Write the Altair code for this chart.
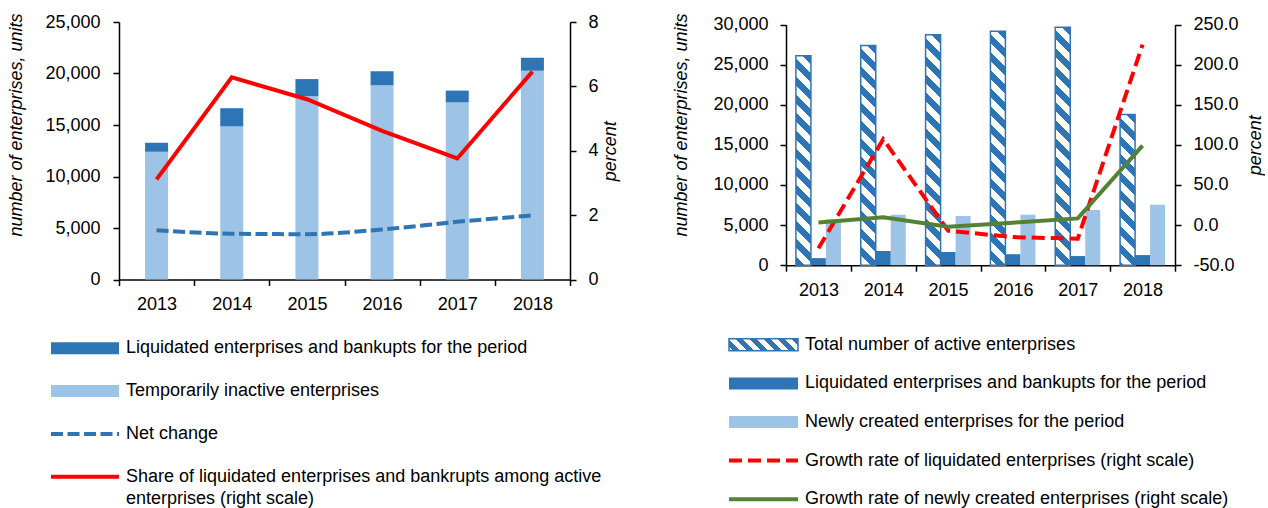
import altair as alt
import pandas as pd

# ---------------- data ----------------
years = [2013, 2014, 2015, 2016, 2017, 2018]
inactive = [12400, 14860, 17810, 18850, 17200, 20270]
liquidated = [880, 1770, 1650, 1370, 1140, 1260]
net_change = [4790, 4440, 4400, 4860, 5600, 6220]
share_liquidated = [3.11, 6.28, 5.60, 4.62, 3.76, 6.46]

total_active = [26100, 27380, 28710, 29170, 29670, 18790]
newly_created = [5710, 6290, 6130, 6290, 6880, 7540]
growth_liquidated = [-29, 107, -7, -15, -17, 225]
growth_new = [3.3, 9.8, -2.2, 3.0, 8.3, 99]

left_y_ticks = [0, 5000, 10000, 15000, 20000, 25000]
left_r_ticks = [0, 2, 4, 6, 8]
right_y_ticks = [0, 5000, 10000, 15000, 20000, 25000, 30000]
right_r_ticks = [-50, 0, 50, 100, 150, 200, 250]

left_legend = [
    "Liquidated enterprises and bankupts for the period",
    "Temporarily inactive enterprises",
    "Net change",
    "Share of liquidated enterprises and bankrupts among active",
    "enterprises (right scale)",
]
right_legend = [
    "Total number of active enterprises",
    "Liquidated enterprises and bankupts for the period",
    "Newly created enterprises for the period",
    "Growth rate of liquidated enterprises (right scale)",
    "Growth rate of newly created enterprises (right scale)",
]

# ---------------- style ----------------
FONT = "Liberation Sans, Arial, sans-serif"
FS = 18
LFS = 18
DARK = "#2E75B6"
LIGHT = "#9DC3E6"
RED = "#FF0000"
GREEN = "#548235"
LW, LH = 451, 257.5
RW, RPLOT = 389, 240.7
RTOP = 2.5                 # right plot starts 2.5 px lower than the left one
RH = RPLOT + RTOP


def hatch(w, h, period, frac=0.5, color=DARK):
    """Diagonal '\\' stripes as a linear gradient in bounding-box units."""
    L = w + h
    d = w * w + h * h
    step = period / L
    stops = []
    k = 0
    while k * step < 1:
        a = k * step
        b = min((k + frac) * step, 1)
        c = min((k + 1) * step, 1)
        stops += [(a, color), (b, color), (b, "#FFFFFF"), (c, "#FFFFFF")]
        k += 1
    return {
        "gradient": "linear",
        "x1": 1, "y1": 0,
        "x2": 1 - w * L / d, "y2": h * L / d,
        "stops": [{"offset": o, "color": c} for o, c in stops],
    }


def x_axis():
    return alt.Axis(title=None, labelAngle=0, tickBand="extent", labelPadding=10)


# ================= LEFT CHART =================
df_lb = pd.DataFrame({
    "year": years * 2,
    "series": ["Temporarily inactive"] * 6 + ["Liquidated"] * 6,
    "value": inactive + liquidated,
    "ord": [0] * 6 + [1] * 6,
})
left_color = alt.Scale(domain=["Temporarily inactive", "Liquidated"], range=[LIGHT, DARK])
left_y_scale = alt.Scale(domain=[0, 25000], nice=False, zero=True)
left_y_axis = alt.Axis(values=left_y_ticks, format=",d", title="number of enterprises, units",
                       orient="left", labelPadding=13, titlePadding=19, titleY=102.5)

l_bars = alt.Chart(df_lb).mark_bar(size=23).encode(
    x=alt.X("year:O", scale=alt.Scale(paddingInner=0, paddingOuter=0), axis=x_axis()),
    y=alt.Y("value:Q", stack="zero", scale=left_y_scale, axis=left_y_axis),
    color=alt.Color("series:N", scale=left_color, legend=None),
    order=alt.Order("ord:Q", sort="ascending"),
)
df_net = pd.DataFrame({"year": years, "net": net_change})
l_net = alt.Chart(df_net).mark_line(color=DARK, strokeWidth=4, strokeDash=[12, 4.5],
                                    interpolate="monotone").encode(
    x=alt.X("year:O"),
    y=alt.Y("net:Q", scale=left_y_scale, axis=left_y_axis),
)
df_share = pd.DataFrame({"year": years, "share": share_liquidated})
l_share = alt.Chart(df_share).mark_line(color=RED, strokeWidth=4).encode(
    x=alt.X("year:O"),
    y=alt.Y("share:Q", scale=alt.Scale(domain=[0, 8], nice=False),
            axis=alt.Axis(orient="right", values=left_r_ticks, title="percent", titleAngle=270,
                          titleBaseline="top", labelPadding=12, titlePadding=3)),
)

l_leg_scale = alt.Scale(domain=[0, 1], range=[326.3, 369.1], nice=False, zero=False)
df_ll = pd.DataFrame({"label": left_legend, "row": [0, 1, 2, 3, 3.525]})
l_leg_text = alt.Chart(df_ll).mark_text(align="left", baseline="middle", font=FONT,
                                        fontSize=LFS, color="black").encode(
    x=alt.value(7), y=alt.Y("row:Q", scale=l_leg_scale, axis=None), text="label:N")
l_leg_rect = alt.Chart(pd.DataFrame({"row": [0, 1], "series": ["Liquidated", "Temporarily inactive"]})
                       ).transform_calculate(r0="datum.row - 0.14", r1="datum.row + 0.14").mark_rect().encode(
    x=alt.value(-68), x2=alt.value(0),
    y=alt.Y("r0:Q", scale=l_leg_scale, axis=None), y2="r1:Q",
    color=alt.Color("series:N", scale=left_color, legend=None))
l_leg_dash = alt.Chart(pd.DataFrame({"row": [2]})).mark_rule(
    color=DARK, strokeWidth=4, strokeDash=[12, 4.5]).encode(
    x=alt.value(-68), x2=alt.value(0), y=alt.Y("row:Q", scale=l_leg_scale, axis=None))
l_leg_red = alt.Chart(pd.DataFrame({"row": [3]})).mark_rule(color=RED, strokeWidth=4).encode(
    x=alt.value(-68), x2=alt.value(0), y=alt.Y("row:Q", scale=l_leg_scale, axis=None))
l_legend = alt.layer(l_leg_rect, l_leg_dash, l_leg_red, l_leg_text)

left = alt.layer(alt.layer(l_bars, l_net), l_share, l_legend).resolve_scale(
    y="independent").properties(width=LW, height=LH)

# ================= RIGHT CHART =================
off_scale = alt.Scale(domain=["Total", "Liquidated", "Newly created"], paddingInner=0, paddingOuter=0.661)
right_x = alt.X("year:O", scale=alt.Scale(paddingInner=0, paddingOuter=0), axis=x_axis())
right_y_scale = alt.Scale(domain=[0, 30000], nice=False, zero=True, range=[RH, RTOP])
right_y_axis = alt.Axis(values=right_y_ticks, format=",d", title="number of enterprises, units",
                        orient="left", labelPadding=12, titlePadding=22, titleY=100 + RTOP)
right_color = alt.Scale(domain=["Liquidated", "Newly created"], range=[DARK, LIGHT])

df_tot = pd.DataFrame({"year": years, "series": ["Total"] * 6, "value": total_active})
hatched = []
for i, yr in enumerate(years):
    h = total_active[i] / 30000 * RPLOT
    hatched.append(
        alt.Chart(df_tot).transform_filter(f"datum.year == {yr}").mark_bar(
            fill=hatch(15, h, 18), stroke=DARK, strokeWidth=1.5).encode(
            x=right_x,
            xOffset=alt.XOffset("series:N", scale=off_scale),
            y=alt.Y("value:Q", scale=right_y_scale, axis=right_y_axis),
        )
    )
df_rb = pd.DataFrame({
    "year": years * 2,
    "series": ["Liquidated"] * 6 + ["Newly created"] * 6,
    "value": liquidated + newly_created,
})
r_bars = alt.Chart(df_rb).mark_bar().encode(
    x=right_x,
    xOffset=alt.XOffset("series:N", scale=off_scale),
    y=alt.Y("value:Q", scale=right_y_scale, axis=right_y_axis),
    color=alt.Color("series:N", scale=right_color, legend=None),
)
right_r_scale = alt.Scale(domain=[-50, 250], nice=False, zero=False, range=[RH, RTOP])
right_r_axis = alt.Axis(orient="right", values=right_r_ticks, title="percent", titleAngle=270,
                        titleBaseline="top", labelPadding=12, titlePadding=8,
                        labelExpr="replace(format(datum.value, '.1f'), '\u2212', '-')")
df_gl = pd.DataFrame({"year": years, "g": growth_liquidated})
df_gn = pd.DataFrame({"year": years, "g": growth_new})
r_red = alt.Chart(df_gl).mark_line(color=RED, strokeWidth=4, strokeDash=[13, 6]).encode(
    x=alt.X("year:O"), y=alt.Y("g:Q", scale=right_r_scale, axis=right_r_axis))
r_green = alt.Chart(df_gn).mark_line(color=GREEN, strokeWidth=4).encode(
    x=alt.X("year:O"), y=alt.Y("g:Q", scale=right_r_scale, axis=right_r_axis))

r_leg_scale = alt.Scale(domain=[0, 1], range=[322.8, 361.4], nice=False, zero=False)
df_rl = pd.DataFrame({"label": right_legend, "row": [0, 1, 2, 3, 4]})
r_leg_text = alt.Chart(df_rl).mark_text(align="left", baseline="middle", font=FONT,
                                        fontSize=LFS, color="black").encode(
    x=alt.value(19), y=alt.Y("row:Q", scale=r_leg_scale, axis=None), text="label:N")
r_leg_hatch = alt.Chart(pd.DataFrame({"row": [0]})).transform_calculate(
    r0="datum.row - 0.155", r1="datum.row + 0.155").mark_rect(
    fill=hatch(69, 12, 14), stroke=DARK, strokeWidth=1.5).encode(
    x=alt.value(-57), x2=alt.value(12),
    y=alt.Y("r0:Q", scale=r_leg_scale, axis=None), y2="r1:Q")
r_leg_rect = alt.Chart(pd.DataFrame({"row": [1, 2], "series": ["Liquidated", "Newly created"]})
                       ).transform_calculate(r0="datum.row - 0.155", r1="datum.row + 0.155").mark_rect().encode(
    x=alt.value(-57), x2=alt.value(12),
    y=alt.Y("r0:Q", scale=r_leg_scale, axis=None), y2="r1:Q",
    color=alt.Color("series:N", scale=right_color, legend=None))
r_leg_red = alt.Chart(pd.DataFrame({"row": [3]})).mark_rule(
    color=RED, strokeWidth=4, strokeDash=[13, 6]).encode(
    x=alt.value(-57), x2=alt.value(12), y=alt.Y("row:Q", scale=r_leg_scale, axis=None))
r_leg_green = alt.Chart(pd.DataFrame({"row": [4]})).mark_rule(color=GREEN, strokeWidth=4).encode(
    x=alt.value(-57), x2=alt.value(12), y=alt.Y("row:Q", scale=r_leg_scale, axis=None))
r_legend = alt.layer(r_leg_hatch, r_leg_rect, r_leg_red, r_leg_green, r_leg_text)

right = alt.layer(alt.layer(*hatched, r_bars), alt.layer(r_red, r_green), r_legend).resolve_scale(
    y="independent").properties(width=RW, height=RH)

chart = alt.hconcat(left, right, spacing=52).properties(
    padding={"left": 7, "top": 12, "right": 0, "bottom": 0}
).configure_view(stroke=None).configure_axis(
    labelFont=FONT, titleFont=FONT, labelFontSize=FS, titleFontSize=FS,
    titleFontStyle="italic", titleFontWeight="normal",
    labelColor="black", titleColor="black", domainColor="black", tickColor="black",
    domainWidth=1.5, tickWidth=1.5, tickSize=6, grid=False, labelOverlap=False,
)

chart.save("out.html", embed_options={"renderer": "svg", "actions": False})
